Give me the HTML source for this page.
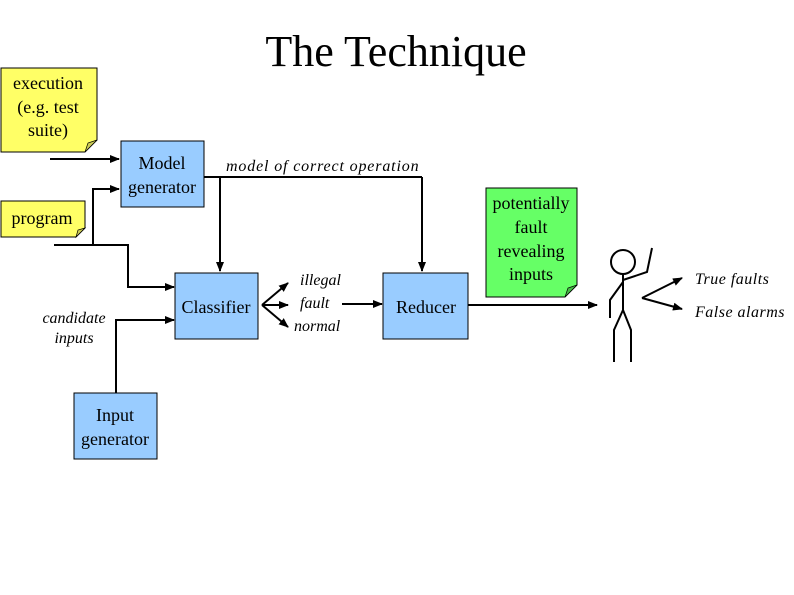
<!DOCTYPE html>
<html><head><meta charset="utf-8"><style>
html,body{margin:0;padding:0;background:#fff;}
svg{display:block;}
text{font-family:"Liberation Serif",serif;fill:#000;}
.it{font-style:italic;}
</style></head><body>
<svg width="794" height="595" viewBox="0 0 794 595">
<defs>
<marker id="a" markerWidth="10" markerHeight="10" refX="9" refY="5" orient="auto" markerUnits="userSpaceOnUse"><path d="M0,1 L10,5 L0,9 z" fill="#000"/></marker>
</defs>
<text x="396" y="66" font-size="44" text-anchor="middle">The Technique</text>

<path d="M1,68 H97 V140 L85,152 H1 Z" fill="#ffff66" stroke="#000" stroke-width="1"/>
<path d="M85,152 L88,143 L97,140 Z" fill="#cccc55" stroke="#000" stroke-width="0.7"/>
<text x="48" y="89" font-size="18" text-anchor="middle">execution</text>
<text x="48" y="113" font-size="18" text-anchor="middle">(e.g. test</text>
<text x="48" y="136" font-size="18" text-anchor="middle">suite)</text>

<path d="M1,201 H85 V228 L76,237 H1 Z" fill="#ffff66" stroke="#000" stroke-width="1"/>
<path d="M76,237 L78,230 L85,228 Z" fill="#cccc55" stroke="#000" stroke-width="0.7"/>
<text x="42" y="224" font-size="18" text-anchor="middle">program</text>

<g stroke="#000" stroke-width="2" fill="none">
<line x1="50" y1="159" x2="119" y2="159" marker-end="url(#a)"/>
<polyline points="54,245 128,245 128,287 174,287" marker-end="url(#a)"/>
<polyline points="93,245 93,189 119,189" marker-end="url(#a)"/>
<polyline points="116,393 116,320 174,320" marker-end="url(#a)"/>
<line x1="204" y1="177" x2="422" y2="177"/>
<line x1="220" y1="177" x2="220" y2="271" marker-end="url(#a)"/>
<line x1="422" y1="177" x2="422" y2="271" marker-end="url(#a)"/>
<line x1="262" y1="305" x2="288" y2="283" marker-end="url(#a)"/>
<line x1="262" y1="305" x2="288" y2="305" marker-end="url(#a)"/>
<line x1="262" y1="305" x2="288" y2="327" marker-end="url(#a)"/>
<line x1="342" y1="304" x2="382" y2="304" marker-end="url(#a)"/>
<line x1="468" y1="305" x2="597" y2="305" marker-end="url(#a)"/>
<line x1="642" y1="298" x2="682" y2="278" marker-end="url(#a)"/>
<line x1="642" y1="298" x2="682" y2="309" marker-end="url(#a)"/>
</g>

<rect x="121" y="141" width="83" height="66" fill="#99ccff" stroke="#000"/>
<text x="162" y="169" font-size="18" text-anchor="middle">Model</text>
<text x="162" y="193" font-size="18" text-anchor="middle">generator</text>
<rect x="175" y="273" width="83" height="66" fill="#99ccff" stroke="#000"/>
<text x="216" y="313" font-size="18" text-anchor="middle">Classifier</text>
<rect x="383" y="273" width="85" height="66" fill="#99ccff" stroke="#000"/>
<text x="426" y="313" font-size="18" text-anchor="middle">Reducer</text>
<rect x="74" y="393" width="83" height="66" fill="#99ccff" stroke="#000"/>
<text x="115" y="421" font-size="18" text-anchor="middle">Input</text>
<text x="115" y="445" font-size="18" text-anchor="middle">generator</text>

<text class="it" x="226" y="171" font-size="16" letter-spacing="0.85">model of correct operation</text>
<text class="it" x="74" y="323" font-size="16" text-anchor="middle">candidate</text>
<text class="it" x="74" y="343" font-size="16" text-anchor="middle">inputs</text>
<text class="it" x="300" y="285" font-size="16">illegal</text>
<text class="it" x="300" y="308" font-size="16">fault</text>
<text class="it" x="294" y="331" font-size="16">normal</text>

<path d="M486,188 H577 V285 L565,297 H486 Z" fill="#66ff66" stroke="#000"/>
<path d="M565,297 L568,288 L577,285 Z" fill="#44bb44" stroke="#000" stroke-width="0.7"/>
<text x="531" y="209" font-size="18" text-anchor="middle">potentially</text>
<text x="531" y="233" font-size="18" text-anchor="middle">fault</text>
<text x="531" y="257" font-size="18" text-anchor="middle">revealing</text>
<text x="531" y="280" font-size="18" text-anchor="middle">inputs</text>

<g stroke="#000" stroke-width="2" fill="none">
<circle cx="623" cy="262" r="12"/>
<line x1="623" y1="274" x2="623" y2="310"/>
<polyline points="623,280 647,272 652,248"/>
<polyline points="623,282 610,300 610,318"/>
<polyline points="623,310 614,330 614,362"/>
<polyline points="623,310 631,330 631,362"/>
</g>
<text class="it" x="695" y="284" font-size="16" letter-spacing="0.5">True faults</text>
<text class="it" x="695" y="317" font-size="16" letter-spacing="0.5">False alarms</text>
</svg>
</body></html>
